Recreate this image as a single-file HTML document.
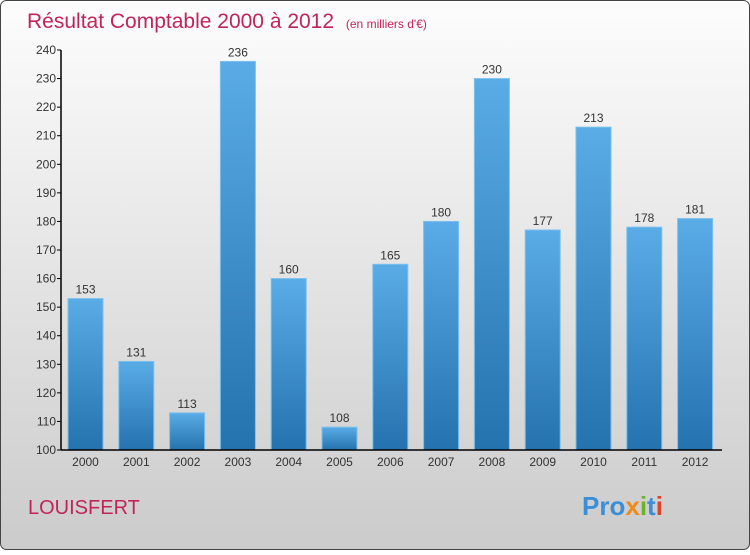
<!DOCTYPE html>
<html><head><meta charset="utf-8"><style>
body{margin:0;width:750px;height:550px;overflow:hidden}
</style></head><body>
<svg width="750" height="550" xmlns="http://www.w3.org/2000/svg" font-family="Liberation Sans, sans-serif">
<defs>
<linearGradient id="bg" x1="0" y1="0" x2="0" y2="1"><stop offset="0" stop-color="#fdfdfd"/><stop offset="1" stop-color="#cbcbcb"/></linearGradient>
<linearGradient id="bar" x1="0" y1="0" x2="0" y2="1"><stop offset="0" stop-color="#5aace6"/><stop offset="1" stop-color="#2472ae"/></linearGradient>
</defs>
<rect x="0.5" y="0.5" width="749" height="549" rx="6" fill="url(#bg)" stroke="#444"/>
<text x="27" y="28" font-size="21" fill="#c0245a">Résultat Comptable 2000 à 2012 <tspan font-size="12" dx="6">(en milliers d'€)</tspan></text>
<g id="plot"></g>
<text x="28" y="514" font-size="20" fill="#c0245a">LOUISFERT</text>
<text x="582" y="515" font-size="26" font-weight="bold"><tspan fill="#3a8fd8">Pro</tspan><tspan fill="#f08a1c">x</tspan><tspan fill="#6cb22b">i</tspan><tspan fill="#3a8fd8">t</tspan><tspan fill="#e0402a">i</tspan></text>
</svg>
<script>
const categories=["2000","2001","2002","2003","2004","2005","2006","2007","2008","2009","2010","2011","2012"];
const values=[153,131,113,236,160,108,165,180,230,177,213,178,181];
const yTicks=[100,110,120,130,140,150,160,170,180,190,200,210,220,230,240];
const NS="http://www.w3.org/2000/svg";
const g=document.getElementById('plot');
const y0=450,y1=50,vmin=100,vmax=240;
const y=v=>y0-(v-vmin)/(vmax-vmin)*(y0-y1);
const x0=61,step=50.8;
const xc=i=>x0+24.5+i*step;
function mk(t,a){const e=document.createElementNS(NS,t);for(const k in a)e.setAttribute(k,a[k]);g.appendChild(e);return e;}
values.forEach((v,i)=>{
 const r=mk('rect',{x:xc(i)-17.5,y:y(v),width:35,height:y0-y(v),fill:'url(#bar)',stroke:'#7cc0ee','stroke-width':1});
 
 
 const t=mk('text',{x:xc(i),y:y(v)-5,'text-anchor':'middle','font-size':12,fill:'#333'});
 t.textContent=v;
 
 
 const c=mk('text',{x:xc(i),y:466,'text-anchor':'middle','font-size':12,fill:'#333'});
 c.textContent=categories[i];
 
 
});
yTicks.forEach(v=>{
 const l=mk('line',{x1:x0-4,x2:x0,y1:y(v),y2:y(v),stroke:'#000'});
 
 
 const t=mk('text',{x:x0-5,y:y(v)+4,'text-anchor':'end','font-size':12,fill:'#333'});
 t.textContent=v;
 
 
});
const ya=mk('line',{x1:x0,x2:x0,y1:y1,y2:y0,stroke:'#000','stroke-width':1.5});


const xa=mk('line',{x1:x0,x2:722,y1:y0,y2:y0,stroke:'#000','stroke-width':1.5});


</script>
</body></html>
